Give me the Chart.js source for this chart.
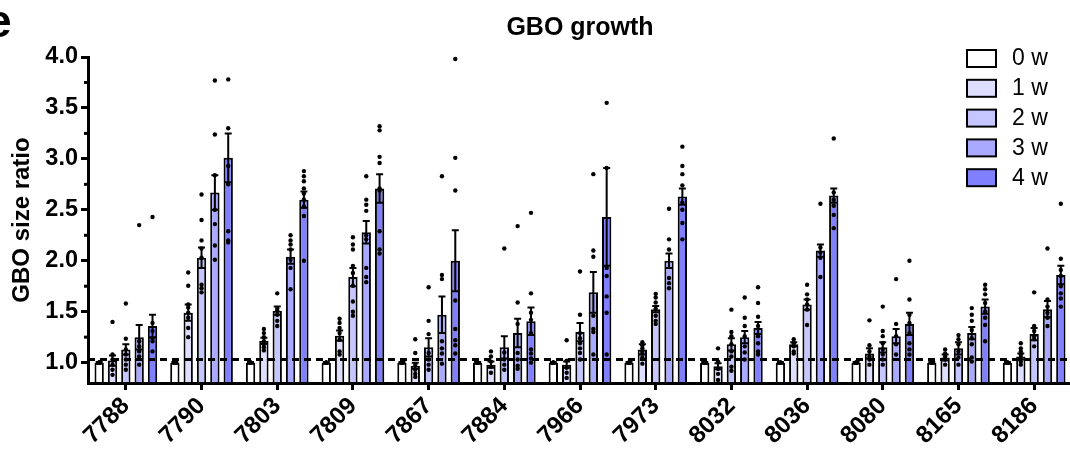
<!DOCTYPE html>
<html><head><meta charset="utf-8">
<script src="https://cdn.jsdelivr.net/npm/chart.js@4.4.0/dist/chart.umd.min.js"></script>
<style>html,body{margin:0;padding:0;background:#fff;overflow:hidden;width:1070px;height:452px}canvas{display:block}</style>
</head><body>
<canvas id="c" width="1072" height="452" style="width:1072px;height:452px"></canvas>
<script>
const categories = ['7788','7790','7803','7809','7867','7884','7966','7973','8032','8036','8080','8165','8186'];
const seriesLabels = ['0 w','1 w','2 w','3 w','4 w'];
const seriesColors = ['#ffffff','#dedeff','#c6c6ff','#a9a9ff','#8080ff'];
const yTickValues = [1.0,1.5,2.0,2.5,3.0,3.5,4.0];
const yMinorTicks = [1.25,1.75,2.25,2.75,3.25,3.75];
const refLine = 1.03;

const mean0w = [1.00,1.00,1.00,1.00,1.00,1.00,1.00,1.00,1.00,1.00,1.00,1.00,1.00];
const mean1w = [1.02,1.49,1.215,1.265,0.97,0.98,0.98,1.13,0.965,1.18,1.09,1.05,1.06];
const mean2w = [1.13,2.03,1.51,1.84,1.15,1.15,1.30,1.525,1.18,1.57,1.15,1.14,1.28];
const mean3w = [1.25,2.67,2.04,2.28,1.47,1.29,1.69,2.00,1.25,2.10,1.26,1.29,1.525];
const mean4w = [1.36,3.01,2.60,2.71,2.00,1.405,2.43,2.63,1.34,2.64,1.38,1.55,1.86];

const sem0w = [0.005,0.005,0.005,0.005,0.005,0.005,0.005,0.005,0.005,0.005,0.005,0.005,0.005];
const sem1w = [0.05,0.08,0.03,0.05,0.03,0.03,0.03,0.05,0.03,0.02,0.05,0.03,0.03];
const sem2w = [0.05,0.10,0.04,0.09,0.09,0.11,0.09,0.03,0.06,0.05,0.05,0.06,0.06];
const sem3w = [0.12,0.17,0.07,0.11,0.18,0.14,0.20,0.07,0.06,0.06,0.07,0.06,0.08];
const sem4w = [0.11,0.24,0.08,0.14,0.30,0.135,0.48,0.08,0.06,0.07,0.11,0.07,0.09];

const pts0w = [[1,1,1,1,1,1],[1,1,1,1,1,1],[1,1,1,1,1,1],[1,1,1,1,1,1],[1,1,1,1,1,1],[1,1,1,1,1,1],[1,1,1,1,1,1],[1,1,1,1,1,1],[1,1,1,1,1,1],[1,1,1,1,1,1],[1,1,1,1,1,1],[1,1,1,1,1,1],[1,1,1,1,1,1]];
const pts1w = [
  [1.40,1.08,1.03,0.98,0.93,0.88],
  [1.885,1.755,1.57,1.54,1.49,1.44,1.34,1.25],
  [1.33,1.29,1.25,1.21,1.18,1.15,1.12],
  [1.43,1.39,1.34,1.29,1.225,1.11,1.08],
  [1.23,1.095,0.98,0.93,0.89,0.86],
  [1.11,1.06,1.01,0.96,0.90],
  [1.22,1.02,0.95,0.90,0.85],
  [1.20,1.17,1.14,1.11,1.09,1.05,0.99],
  [1.14,1.01,0.94,0.89,0.83],
  [1.23,1.19,1.16,1.11,1.09],
  [1.415,1.17,1.11,1.06,1.03,0.98],
  [1.13,1.09,1.06,1.03,0.98],
  [1.19,1.14,1.11,1.08,1.05,1.01,0.98]
];
const pts2w = [
  [1.58,1.235,1.13,1.08,1.03,0.98,0.93],
  [2.65,2.40,2.20,2.12,2.03,1.765,1.73,1.69],
  [1.68,1.53,1.51,1.47,1.41,1.36],
  [2.23,2.16,2.11,1.95,1.88,1.755,1.60,1.50,1.46],
  [1.74,1.41,1.28,1.095,1.03,0.98,0.93],
  [2.12,1.10,1.03,0.98,0.93],
  [1.895,1.47,1.29,1.24,1.19,1.14,1.095,1.03],
  [1.675,1.64,1.59,1.53,1.46,1.41,1.38],
  [1.52,1.30,1.26,1.18,1.11,1.06,0.96,0.92],
  [1.765,1.67,1.62,1.57,1.52,1.37],
  [1.55,1.31,1.26,1.19,1.13,1.08,1.03,0.98],
  [1.27,1.23,1.18,1.11,1.05,0.98],
  [1.69,1.36,1.31,1.26,1.23,1.16]
];
const pts3w = [
  [2.35,1.21,1.16,1.11,1.06,0.98],
  [3.77,3.24,2.84,2.50,2.36,2.15,2.01],
  [2.25,2.20,2.16,2.11,2.01,1.93,1.72],
  [2.83,2.60,2.55,2.49,2.25,2.21,1.93,1.84,1.79],
  [2.83,1.86,1.82,1.21,1.14,1.09,0.99],
  [2.34,1.59,1.38,1.095,1.03,0.97,0.94],
  [2.85,2.10,2.04,1.46,1.33,1.30,1.08],
  [2.51,2.21,2.11,1.83,1.78,1.73],
  [1.64,1.44,1.36,1.26,1.16,1.10,1.03],
  [2.56,2.13,2.08,2.03,1.84],
  [1.82,1.38,1.26,1.18,1.08],
  [1.535,1.47,1.41,1.32,1.24,1.18,1.05,1.01],
  [2.12,1.62,1.55,1.49,1.44,1.36]
];
const pts4w = [
  [2.43,1.39,1.31,1.24,1.21,1.11],
  [3.78,3.30,2.93,2.75,2.29,2.20,2.18],
  [2.88,2.83,2.78,2.71,2.66,2.60,2.53,2.44,2.00],
  [3.32,3.28,3.02,2.96,2.71,2.69,2.29,2.11,2.07],
  [3.98,3.01,2.69,1.61,1.33,1.22,1.17,1.09],
  [2.47,1.68,1.49,1.42,1.29,1.13,1.09,1.04,1.00],
  [3.55,2.91,1.93,1.85,1.65,1.49,1.08],
  [3.12,2.93,2.85,2.74,2.57,2.50,2.37,2.21],
  [1.74,1.585,1.45,1.36,1.26,1.19,1.11,1.08],
  [3.20,2.67,2.60,2.54,2.45,2.32],
  [2.00,1.62,1.47,1.39,1.29,1.19,1.13,1.08],
  [1.765,1.72,1.67,1.585,1.50,1.44,1.37,1.21],
  [2.56,2.02,1.91,1.85,1.75,1.68,1.63,1.55]
];

const seriesMeans = [mean0w, mean1w, mean2w, mean3w, mean4w];
const seriesSems = [sem0w, sem1w, sem2w, sem3w, sem4w];
const seriesPts = [pts0w, pts1w, pts2w, pts3w, pts4w];

const FAM = '"Liberation Sans", Arial, Helvetica, sans-serif';

const barSets = seriesMeans.map((m, s) => ({
  type: 'bar', label: seriesLabels[s], data: m,
  backgroundColor: seriesColors[s], borderColor: '#000', borderWidth: 2,
  categoryPercentage: 0.881, barPercentage: 0.70, clip: 0
}));

const decor = {
  id: 'decor',
  afterDatasetsDraw(chart) {
    const ctx = chart.ctx, y = chart.scales.y, ca = chart.chartArea;
    ctx.save();
    // individual points
    ctx.fillStyle = '#000';
    seriesPts.forEach((g, s) => {
      const meta = chart.getDatasetMeta(s);
      meta.data.forEach((bar, i) => {
        g[i].forEach(v => {
          ctx.beginPath();
          ctx.arc(bar.x, y.getPixelForValue(v), 2.2, 0, Math.PI * 2);
          ctx.fill();
        });
      });
    });
    // error bars (mean ± SEM)
    ctx.strokeStyle = '#000'; ctx.lineWidth = 2; ctx.lineCap = 'butt';
    seriesMeans.forEach((m, s) => {
      const meta = chart.getDatasetMeta(s);
      meta.data.forEach((bar, i) => {
        const e = seriesSems[s][i], x = bar.x;
        const yt = y.getPixelForValue(m[i] + e), yb = y.getPixelForValue(m[i] - e);
        ctx.beginPath();
        ctx.moveTo(x, yt); ctx.lineTo(x, yb);
        ctx.moveTo(x - 3.5, yt); ctx.lineTo(x + 3.5, yt);
        ctx.moveTo(x - 3.5, yb); ctx.lineTo(x + 3.5, yb);
        ctx.stroke();
      });
    });
    // reference dashed line
    const yr = y.getPixelForValue(refLine);
    ctx.lineWidth = 3; ctx.setLineDash([7, 5]);
    ctx.beginPath(); ctx.moveTo(ca.left, yr); ctx.lineTo(ca.right, yr); ctx.stroke();
    ctx.restore();
  },
  afterDraw(chart) {
    const ctx = chart.ctx, y = chart.scales.y, ca = chart.chartArea;
    ctx.save();
    ctx.strokeStyle = '#000'; ctx.lineWidth = 3;
    yMinorTicks.forEach(v => {
      const p = y.getPixelForValue(v);
      ctx.beginPath(); ctx.moveTo(ca.left - 4, p); ctx.lineTo(ca.left, p); ctx.stroke();
    });
    // legend
    ctx.lineWidth = 2;
    ctx.font = '23px ' + FAM; ctx.textBaseline = 'middle'; ctx.textAlign = 'left';
    seriesLabels.forEach((lab, s) => {
      const by = 50 + s * 29.8;
      ctx.fillStyle = seriesColors[s];
      ctx.fillRect(967, by, 29, 17);
      ctx.strokeRect(967, by, 29, 17);
      ctx.fillStyle = '#000';
      ctx.fillText(lab, 1012, by + 9);
    });
    // panel letter
    ctx.font = 'bold 46px ' + FAM; ctx.textBaseline = 'alphabetic';
    ctx.fillText('e', -14, 37);
    ctx.restore();
  }
};

new Chart(document.getElementById('c'), {
  type: 'bar',
  data: { labels: categories, datasets: barSets },
  options: {
    responsive: false, animation: false, devicePixelRatio: 1,
    layout: { padding: { left: 0, right: 0, top: 0, bottom: 0 } },
    plugins: {
      legend: { display: false }, tooltip: { enabled: false },
      title: { display: true, text: 'GBO growth', fullSize: false, color: '#000',
        font: { family: FAM, size: 25, weight: 'bold' }, padding: { top: 13, bottom: 14 } }
    },
    scales: {
      x: {
        type: 'category', offset: true, position: 'bottom',
        afterFit: s => { s.height = 69; },
        grid: { drawOnChartArea: false, tickLength: 7, tickWidth: 3, tickColor: '#000', offset: false },
        border: { color: '#000', width: 3, z: 1 },
        ticks: { color: '#000', font: { family: FAM, size: 24, weight: 'bold' }, maxRotation: 45, minRotation: 45, padding: 2, autoSkip: false }
      },
      y: {
        type: 'linear', min: 0.8, max: 4.0,
        afterBuildTicks: s => { s.ticks = yTickValues.map(v => ({ value: v })); },
        afterFit: s => { s.width = 88; },
        grid: { drawOnChartArea: false, tickLength: 7, tickWidth: 3, tickColor: '#000' },
        border: { color: '#000', width: 3, z: 1 },
        ticks: { color: '#000', font: { family: FAM, size: 23.5, weight: 'bold' }, padding: 3, callback: v => Number(v).toFixed(1) },
        title: { display: true, text: 'GBO size ratio', color: '#000', font: { family: FAM, size: 24, weight: 'bold' }, padding: { top: 8, bottom: 0 } }
      }
    }
  },
  plugins: [decor]
});
</script>
</body></html>
